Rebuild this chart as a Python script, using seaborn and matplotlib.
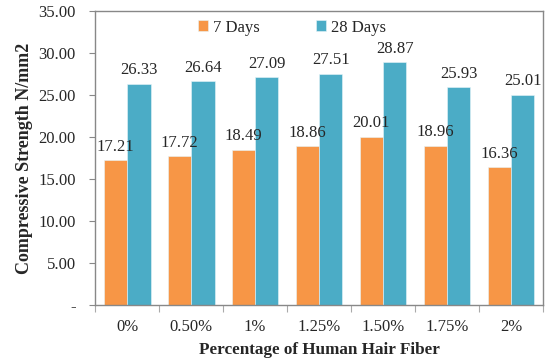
import pandas as pd
import numpy as np
import matplotlib
matplotlib.use("Agg")
import matplotlib.pyplot as plt
import seaborn as sns

# chart data
fiber_pct = ['0%', '0.50%', '1%', '1.25%', '1.50%', '1.75%', '2%']
days_7 = [17.21, 17.72, 18.49, 18.86, 20.01, 18.96, 16.36]
days_28 = [26.33, 26.64, 27.09, 27.51, 28.87, 25.93, 25.01]
series_names = ['7 Days', '28 Days']
y_ticks = [0, 5, 10, 15, 20, 25, 30, 35]
y_tick_labels = ['-', '5.00', '10.00', '15.00', '20.00', '25.00', '30.00', '35.00']

df = pd.DataFrame({
    'Fiber': fiber_pct * 2,
    'Strength': days_7 + days_28,
    'Age': [series_names[0]] * len(fiber_pct) + [series_names[1]] * len(fiber_pct),
})

sns.set_style("white")
plt.rcParams['font.family'] = ['Liberation Serif', 'DejaVu Serif']

fig = plt.figure(figsize=(5.54, 3.63), dpi=100)
ax = fig.add_axes([0.172, 0.16, 0.808, 0.81])

sns.barplot(data=df, x='Fiber', y='Strength', hue='Age',
            palette=['#F79646', '#4BACC6'], saturation=1, width=0.73,
            edgecolor='#e8f4f8', linewidth=0.4, ax=ax)

# value labels
for cont in ax.containers:
    ax.bar_label(cont, fmt='%.2f', padding=4, fontsize=12)

ax.set_ylim(0, 35)
ax.set_xlim(-0.5, len(fiber_pct) - 0.5)
ax.set_yticks(y_ticks)
ax.set_yticklabels(y_tick_labels, fontsize=12)
ax.tick_params(axis='y', which='major', left=True, length=4, width=0.8, color='#888888', pad=10)

# x ticks between categories
ax.set_xticks(range(len(fiber_pct)))
ax.set_xticklabels(fiber_pct, fontsize=12)
ax.tick_params(axis='x', which='major', length=0, pad=10)
ax.set_xticks(np.arange(-0.5, len(fiber_pct)), minor=True)
ax.tick_params(axis='x', which='minor', bottom=True, length=5, width=0.8, color='#aaaaaa')

ax.set_xlabel('Percentage of Human Hair Fiber', fontsize=12.3, fontweight='bold', labelpad=5)
ax.set_ylabel('Compressive Strength N/mm2', fontsize=13, fontweight='bold', labelpad=4)

for sp in ax.spines.values():
    sp.set_visible(True)
    sp.set_color('#888888')
    sp.set_linewidth(1.0)

ax.legend(loc='upper center', bbox_to_anchor=(0.44, 1.01), ncol=2, frameon=False,
          fontsize=12, handlelength=0.6, handleheight=0.6, handletextpad=0.3,
          columnspacing=3.4, borderaxespad=0.3)

fig.savefig('out.png', dpi=100)
